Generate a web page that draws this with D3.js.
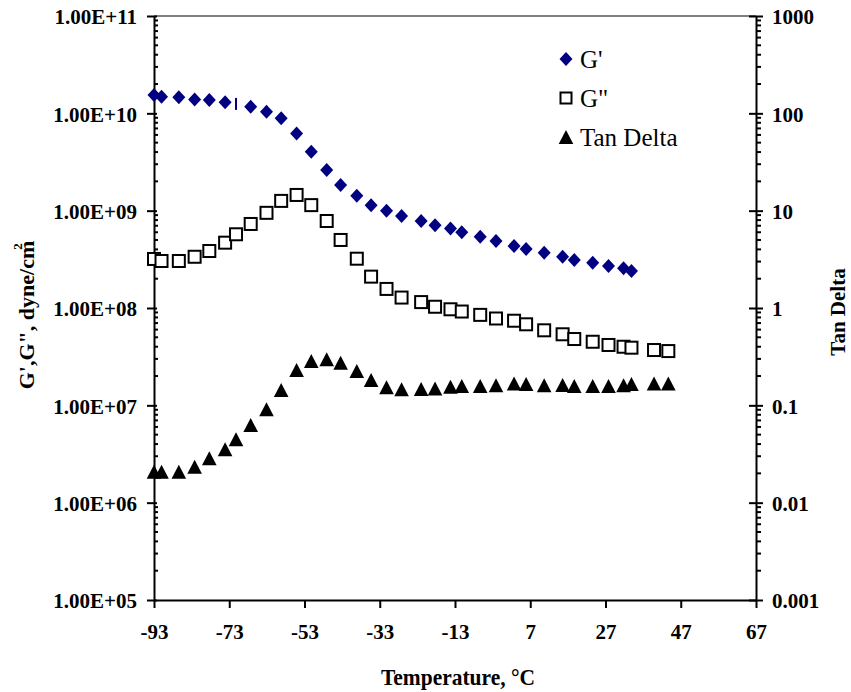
<!DOCTYPE html>
<html>
<head>
<meta charset="utf-8">
<script src="https://cdn.jsdelivr.net/npm/d3@7"></script>
<style>
  html, body { margin: 0; padding: 0; background: #fff; }
  svg { display: block; font-family: "Liberation Serif", "Times New Roman", serif; }
</style>
</head>
<body>
<svg id="chart" width="851" height="692"></svg>
<script>
// Temperature sweep (°C) shared by all three series
const temps = [-93.0, -91.0, -86.4, -82.2, -78.3, -74.1, -71.2, -67.3, -63.1, -59.2,
               -55.1, -51.2, -47.1, -43.4, -39.1, -35.3, -31.2, -27.2, -22.0, -18.3,
               -14.2, -11.2, -6.3, -2.1, 2.7, 5.9, 10.7, 15.6, 18.7, 23.6,
               27.8, 31.8, 33.9, 39.9, 43.7];

// Storage modulus G' (dyne/cm²) – first 33 temperatures
const gPrime = [1.54e10, 1.48e10, 1.46e10, 1.39e10, 1.37e10, 1.30e10, 1.25e10, 1.17e10, 1.04e10, 8.9e9,
                6.2e9, 4.04e9, 2.62e9, 1.84e9, 1.42e9, 1.14e9, 1.0e9, 8.8e8, 7.83e8, 7.07e8,
                6.56e8, 6.0e8, 5.4e8, 4.88e8, 4.33e8, 4.04e8, 3.70e8, 3.36e8, 3.11e8, 2.92e8,
                2.70e8, 2.56e8, 2.40e8];
// index of the G' point that renders as a thin bar
const gPrimeBarIndex = 6;

// Loss modulus G'' (dyne/cm²)
const gDouble = [3.19e8, 3.04e8, 3.04e8, 3.36e8, 3.85e8, 4.69e8, 5.72e8, 7.3e8, 9.5e8, 1.26e9,
                 1.45e9, 1.14e9, 7.83e8, 5.0e8, 3.21e8, 2.1e8, 1.57e8, 1.28e8, 1.15e8, 1.03e8,
                 9.7e7, 9.2e7, 8.5e7, 7.8e7, 7.4e7, 6.8e7, 5.9e7, 5.37e7, 4.8e7, 4.5e7,
                 4.17e7, 4.0e7, 3.91e7, 3.70e7, 3.61e7];

// Tan delta (right axis)
const tanDelta = [0.0208, 0.0208, 0.0208, 0.0234, 0.0286, 0.0353, 0.0448, 0.0628, 0.091, 0.1436,
                  0.2306, 0.285, 0.297, 0.274, 0.2254, 0.182, 0.153, 0.146, 0.147, 0.149,
                  0.155, 0.158, 0.158, 0.161, 0.168, 0.166, 0.161, 0.162, 0.158, 0.158,
                  0.158, 0.161, 0.166, 0.168, 0.168];

// Axis ticks
const xTicks = [-93, -73, -53, -33, -13, 7, 27, 47, 67];
const leftTicks = [1e5, 1e6, 1e7, 1e8, 1e9, 1e10, 1e11];
const rightTicks = [0.001, 0.01, 0.1, 1, 10, 100, 1000];
const rightTickLabels = ["0.001", "0.01", "0.1", "1", "10", "100", "1000"];

const legendItems = ["G'", 'G"', "Tan Delta"];

const svg = d3.select("#chart");
const L = 154, R = 756, T = 16, B = 600;

const x = d3.scaleLinear().domain([-93, 67]).range([L, R]);
const yL = d3.scaleLog().domain([1e5, 1e11]).range([B, T]);
const yR = d3.scaleLog().domain([0.001, 1000]).range([B, T]);

svg.append("rect").attr("width", 851).attr("height", 692).attr("fill", "#fff");

// top frame line
svg.append("line").attr("x1", L).attr("x2", R).attr("y1", T).attr("y2", T)
  .attr("stroke", "#808080").attr("stroke-width", 2);

// minor ticks for log axes
function minorValues(lo, hi) {
  const out = [];
  for (let d = lo; d < hi; d *= 10) for (let k = 2; k <= 9; k++) out.push(d * k);
  return out;
}
svg.append("g").selectAll("line").data(minorValues(1e5, 1e11)).join("line")
  .attr("x1", L).attr("x2", L + 4).attr("y1", d => yL(d)).attr("y2", d => yL(d))
  .attr("stroke", "#000").attr("stroke-width", 2);
svg.append("g").selectAll("line").data(minorValues(0.001, 1000)).join("line")
  .attr("x1", R).attr("x2", R + 5).attr("y1", d => yR(d)).attr("y2", d => yR(d))
  .attr("stroke", "#000").attr("stroke-width", 2);

const tickFont = g => g.selectAll("text")
  .attr("font-family", '"Liberation Serif", "Times New Roman", serif')
  .attr("font-size", 21).attr("font-weight", "bold").attr("fill", "#000");

// left axis
const fmtLeft = d => "1.00E+" + String(Math.round(Math.log10(d))).padStart(2, "0");
const gl = svg.append("g").attr("transform", `translate(${L},0)`)
  .call(d3.axisLeft(yL).tickValues(leftTicks).tickFormat(fmtLeft).tickSizeInner(7).tickSizeOuter(0).tickPadding(10));
gl.select(".domain").attr("stroke", "#000").attr("stroke-width", 2);
gl.selectAll(".tick line").attr("x1", 3).attr("stroke", "#000").attr("stroke-width", 2);
gl.selectAll(".tick text").attr("dy", "0.38em");
gl.call(tickFont);

// right axis
const gr = svg.append("g").attr("transform", `translate(${R},0)`)
  .call(d3.axisRight(yR).tickValues(rightTicks).tickFormat((d, i) => rightTickLabels[i]).tickSizeInner(7).tickSizeOuter(0).tickPadding(9));
gr.select(".domain").attr("stroke", "#000").attr("stroke-width", 2);
gr.selectAll(".tick line").attr("x1", -7).attr("stroke", "#000").attr("stroke-width", 2);
gr.selectAll(".tick text").attr("dy", "0.38em");
gr.call(tickFont);

// bottom axis
const gb = svg.append("g").attr("transform", `translate(0,${B})`)
  .call(d3.axisBottom(x).tickValues(xTicks).tickFormat(d3.format("d")).tickSizeInner(8).tickSizeOuter(0).tickPadding(16));
gb.select(".domain").attr("stroke", "#000").attr("stroke-width", 2);
gb.selectAll(".tick line").attr("stroke", "#000").attr("stroke-width", 2);
gb.selectAll(".tick text").text(d => d < 0 ? "-" + Math.abs(d) : d);
gb.call(tickFont);

// marker shapes
const diamond = "M0,-7L6.5,0L0,7L-6.5,0Z";
const triangle = "M0,-7L7.3,7L-7.3,7Z";

// G' series
const gp = svg.append("g");
gp.selectAll("path").data(gPrime.map((v, i) => ({ t: temps[i], v, i })).filter(d => d.i !== gPrimeBarIndex))
  .join("path").attr("d", diamond)
  .attr("transform", d => `translate(${x(d.t)},${yL(d.v)})`)
  .attr("fill", "#000080");
gp.append("rect")
  .attr("x", x(temps[gPrimeBarIndex]) - 1).attr("y", yL(gPrime[gPrimeBarIndex]) - 6)
  .attr("width", 2).attr("height", 12).attr("fill", "#000080");

// G'' series
svg.append("g").selectAll("rect").data(gDouble.map((v, i) => ({ t: temps[i], v })))
  .join("rect")
  .attr("x", d => x(d.t) - 6).attr("y", d => yL(d.v) - 6)
  .attr("width", 12).attr("height", 12)
  .attr("fill", "#fff").attr("stroke", "#000").attr("stroke-width", 2);

// Tan delta series
svg.append("g").selectAll("path").data(tanDelta.map((v, i) => ({ t: temps[i], v })))
  .join("path").attr("d", triangle)
  .attr("transform", d => `translate(${x(d.t)},${yR(d.v)})`)
  .attr("fill", "#000");

// legend
const lg = svg.append("g").attr("transform", "translate(566,59)");
const legRow = lg.selectAll("g").data(legendItems).join("g")
  .attr("transform", (d, i) => `translate(0,${i * 39})`);
legRow.each(function (d, i) {
  const g = d3.select(this);
  if (i === 0) g.append("path").attr("d", diamond).attr("fill", "#000080");
  else if (i === 1) g.append("rect").attr("x", -5.5).attr("y", -5.5).attr("width", 11).attr("height", 11)
    .attr("fill", "#fff").attr("stroke", "#000").attr("stroke-width", 2);
  else g.append("path").attr("d", triangle).attr("fill", "#000");
  g.append("text").attr("x", 14).attr("y", 9).attr("font-size", 25).attr("fill", "#000").text(d);
});

// axis titles
svg.append("text").attr("x", 458).attr("y", 685)
  .attr("text-anchor", "middle").attr("font-size", 23).attr("font-weight", "bold")
  .attr("textLength", 154).attr("lengthAdjust", "spacingAndGlyphs")
  .text("Temperature, °C");

const yt = svg.append("text").attr("transform", "translate(34,315) rotate(-90)")
  .attr("text-anchor", "middle").attr("font-size", 22).attr("font-weight", "bold");
yt.append("tspan").text('G\',G", dyne/cm');
yt.append("tspan").attr("font-size", 13).attr("dx", -9).attr("dy", -12).text("2");

svg.append("text").attr("transform", "translate(845,312) rotate(-90)")
  .attr("text-anchor", "middle").attr("font-size", 21).attr("font-weight", "bold")
  .text("Tan Delta");
</script>
</body>
</html>
